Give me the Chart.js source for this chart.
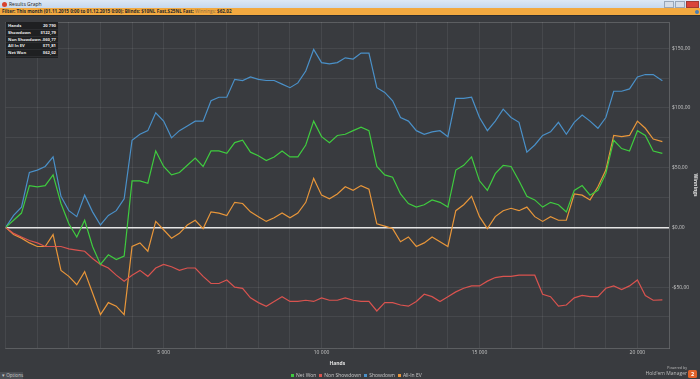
<!DOCTYPE html>
<html>
<head>
<meta charset="utf-8">
<script src="https://cdn.jsdelivr.net/npm/chart.js@4"></script>
<style>
  html,body{margin:0;padding:0;width:700px;height:379px;overflow:hidden;background:#393b3f;font-family:"Open Sans",sans-serif;}
  #titlebar{position:absolute;left:0;top:0;width:700px;height:8px;background:linear-gradient(#dde8f5,#c6d8ee);font-size:5px;color:#222;}
  #titlebar .ico{position:absolute;left:2px;top:1.5px;width:5px;height:5px;border-radius:50%;background:#d8432f;}
  #titlebar .t{position:absolute;left:9px;top:0px;line-height:8px;}
  #titlebar .btns{position:absolute;right:1px;top:1px;height:6px;}
  #titlebar .btns span{display:inline-block;width:8px;height:5px;margin-left:1px;background:#d6dde7;border:0.5px solid #98a6b8;}
  #titlebar .btns span.x{width:11px;background:#d9443a;border-color:#a13a33;}
  #filter{position:absolute;left:0;top:8px;width:700px;height:7px;background:#f2a940;font-size:4.6px;line-height:7px;color:#2a2a2a;font-weight:bold;white-space:nowrap;}
  #filter span.w{color:#8a6a40;font-weight:normal;}
  #filter .f{position:absolute;left:2px;top:0;}
  #filter .dot{position:absolute;right:1px;top:1.5px;width:4px;height:4px;border-radius:50%;background:#4a7fb5;}
  #gap{position:absolute;left:0;top:15px;width:700px;height:1px;background:#2c2e31;}
  canvas{position:absolute;left:0;top:16px;}
  #stats{position:absolute;left:6px;top:22px;width:52px;background:#1f2022;font-size:4.2px;color:#e8e8e8;font-weight:bold;padding:1px 0;white-space:nowrap;}
  #stats div{height:5.8px;line-height:5.8px;padding:0 2px;border-bottom:0.5px solid #2c2d30;display:flex;justify-content:space-between;}
  #legend{position:absolute;left:288px;top:372px;font-size:5px;color:#c8c8c8;line-height:7px;white-space:nowrap;}
  #legend span.sq{display:inline-block;width:3px;height:3px;margin:0 2px 0 3px;vertical-align:0.5px;}
  #options{position:absolute;left:0;top:372px;width:23px;height:7px;background:#4a4d52;color:#c8c8c8;font-size:4.6px;line-height:7px;text-indent:2px;white-space:nowrap;}
  #powered{position:absolute;right:13px;top:366px;text-align:right;color:#bdbdbd;white-space:nowrap;}
  #powered .a{font-size:3.6px;line-height:4px;}
  #powered .b{font-size:5px;line-height:7px;}
  #logo{position:absolute;left:688px;top:370px;width:9px;height:8px;background:#e0622a;border-radius:1.5px;color:#fff;font-size:5.5px;font-weight:bold;text-align:center;line-height:8px;}
</style>
</head>
<body>
<div id="titlebar"><div class="ico"></div><div class="t">Results Graph</div><div class="btns"><span></span><span></span><span class="x"></span></div></div>
<div id="filter"><div class="f">Filter: This month (01.11.2015 0:00 to 01.12.2015 0:00); Blinds: $10NL Fast,$25NL Fast; <span class="w">Winnings:</span> $62,02</div><div class="dot"></div></div>
<div id="gap"></div>
<canvas id="graph" width="700" height="356"></canvas>
<div id="stats"></div>
<div id="options">&#9662; Options</div>
<div id="legend"></div>
<div id="powered"><div class="a">Powered by</div><div class="b">Hold'em Manager</div></div>
<div id="logo">2</div>
<script>
const hands = [0,250,500,750,1000,1250,1500,1750,2000,2250,2500,2750,3000,3250,3500,3750,4000,4250,4500,4750,
  5000,5250,5500,5750,6000,6250,6500,6750,7000,7250,7500,7750,8000,8250,8500,8750,9000,9250,9500,9750,
  10000,10250,10500,10750,11000,11250,11500,11750,12000,12250,12500,12750,13000,13250,13500,13750,14000,14250,14500,14750,
  15000,15250,15500,15750,16000,16250,16500,16750,17000,17250,17500,17750,18000,18250,18500,18750,19000,19250,19500,19750,
  20000,20250,20500,20790];

const netWon = [0,6,12,35,34,35,44,20,3,-8,6,-16,-31,-23,-27,-24,39,39,37,64,
  51,44,46,52,58,51,64,64,62,71,73,63,60,56,59,64,59,59,69,89,
  76,71,77,78,81,84,81,51,44,42,28,20,17,19,23,21,17,48,52,59,
  39,31,45,52,51,39,26,23,17,21,19,13,31,35,27,31,45,73,66,64,
  81,77,64,62.02];

const nonShowdown = [0,-5,-8,-11,-13,-16,-16,-16,-18,-19,-20,-26,-31,-34,-40,-45,-40,-36,-41,-34,
  -31,-33,-36,-34,-34,-41,-47,-47,-44,-50,-51,-59,-63,-66,-62,-58,-62,-62,-61,-62,
  -59,-61,-61,-59,-61,-62,-62,-70,-63,-63,-65,-66,-62,-56,-58,-62,-58,-54,-51,-49,
  -49,-45,-42,-41,-41,-40,-40,-40,-56,-58,-66,-65,-59,-57,-58,-58,-51,-49,-52,-49,
  -44,-57,-61,-60.77];

const showdown = [0,10,17,46,48,51,59,26,14,9,27,13,2,10,14,24,73,78,81,96,
  89,75,81,85,89,89,106,109,109,124,123,126,124,123,123,120,117,121,131,149,
  138,137,138,142,141,146,146,117,113,106,92,89,81,78,80,81,76,108,108,109,
  92,81,89,99,92,88,63,69,77,80,88,78,88,94,89,83,92,114,114,116,
  126,128,128,122.79];

const allInEV = [0,-6,-9,-13,-16,-16,-6,-36,-41,-48,-37,-55,-73,-63,-66,-73,-16,-13,-20,5,
  -2,-9,-5,2,6,-1,13,12,10,21,20,13,9,5,8,12,8,12,21,41,
  27,24,28,34,31,35,32,3,1,-1,-12,-8,-16,-13,-8,-12,-16,14,19,26,
  9,-1,9,14,16,14,17,9,5,9,6,6,28,27,23,34,48,77,76,77,
  89,83,74,71.81];

const seriesNames = ['Net Won','Non Showdown','Showdown','All-In EV'];
const seriesColors = ['#3fcb3f','#d9534f','#4a90c8','#e8963a'];
const seriesData = [netWon, nonShowdown, showdown, allInEV];

const money = v => (v < 0 ? '-$' : '$') + Math.abs(v).toFixed(2).replace('.', ',');
const thousands = v => String(v).replace(/\B(?=(\d{3})+(?!\d))/g, ' ');

// stats box
const last = a => a[a.length - 1];
const statRows = [
  ['Hands', thousands(last(hands))],
  ['Showdown', money(last(showdown))],
  ['Non Showdown', money(last(nonShowdown))],
  ['All In EV', money(last(allInEV))],
  ['Net Won', money(last(netWon))]
];
document.getElementById('stats').innerHTML = statRows.map(r => `<div><span>${r[0]}</span><span>${r[1]}</span></div>`).join('');

// legend
document.getElementById('legend').innerHTML = seriesNames.map((n, i) =>
  `<span class="sq" style="background:${seriesColors[i]}"></span>${n}`).join('');

const grid = 'rgba(255,255,255,0.07)';

new Chart(document.getElementById('graph'), {
  type: 'line',
  data: {
    datasets: seriesNames.map((n, i) => ({
      label: n,
      data: hands.map((h, j) => ({x: h, y: seriesData[i][j]})),
      borderColor: seriesColors[i],
      borderWidth: 1.2,
      pointRadius: 0,
      tension: 0,
      fill: false,
      order: i === 0 ? 0 : i + 1
    }))
  },
  options: {
    responsive: false,
    devicePixelRatio: 1,
    animation: false,
    layout: {padding: {left: 5.7, top: 5, right: 0, bottom: 0}},
    plugins: {legend: {display: false}, tooltip: {enabled: false}},
    scales: {
      x: {
        type: 'linear', min: 0, max: 21000,
        afterFit: s => { s.height = 24; },
        grid: {color: grid, drawTicks: false},
        border: {color: 'rgba(255,255,255,0.12)'},
        ticks: {
          stepSize: 1000, autoSkip: false, maxRotation: 0, padding: 2,
          color: '#c8c8c8', font: {size: 5, family: 'Open Sans'},
          callback: v => (v % 5000 === 0 && v > 0) ? thousands(v) : ''
        },
        title: {display: true, text: 'Hands', color: '#e0e0e0', font: {size: 5, weight: 'bold', family: 'Open Sans'}, padding: {top: 2, bottom: 5}}
      },
      y: {
        position: 'right', min: -101, max: 172,
        afterFit: s => { s.width = 31; },
        grid: {
          drawTicks: false,
          color: c => c.tick.value === 0 ? '#e6e6e6' : grid,
          lineWidth: c => c.tick.value === 0 ? 1.6 : 1
        },
        border: {color: 'rgba(255,255,255,0.12)'},
        ticks: {
          stepSize: 25, autoSkip: false, padding: 3,
          color: '#c8c8c8', font: {size: 5, family: 'Open Sans'},
          callback: v => (v % 50 === 0 && v > -100) ? money(v) : ''
        },
        title: {display: true, text: 'Winnings', color: '#e0e0e0', font: {size: 5, weight: 'bold', family: 'Open Sans'}, padding: 2}
      }
    }
  },
  plugins: [{
    id: 'topBorder',
    afterDraw(chart) {
      const a = chart.chartArea, ctx = chart.ctx;
      ctx.save();
      ctx.strokeStyle = 'rgba(255,255,255,0.12)';
      ctx.lineWidth = 1;
      ctx.beginPath();
      ctx.moveTo(a.left, a.top + 0.5); ctx.lineTo(a.right, a.top + 0.5);
      ctx.stroke();
      ctx.restore();
    }
  }]
});
</script>
</body>
</html>
